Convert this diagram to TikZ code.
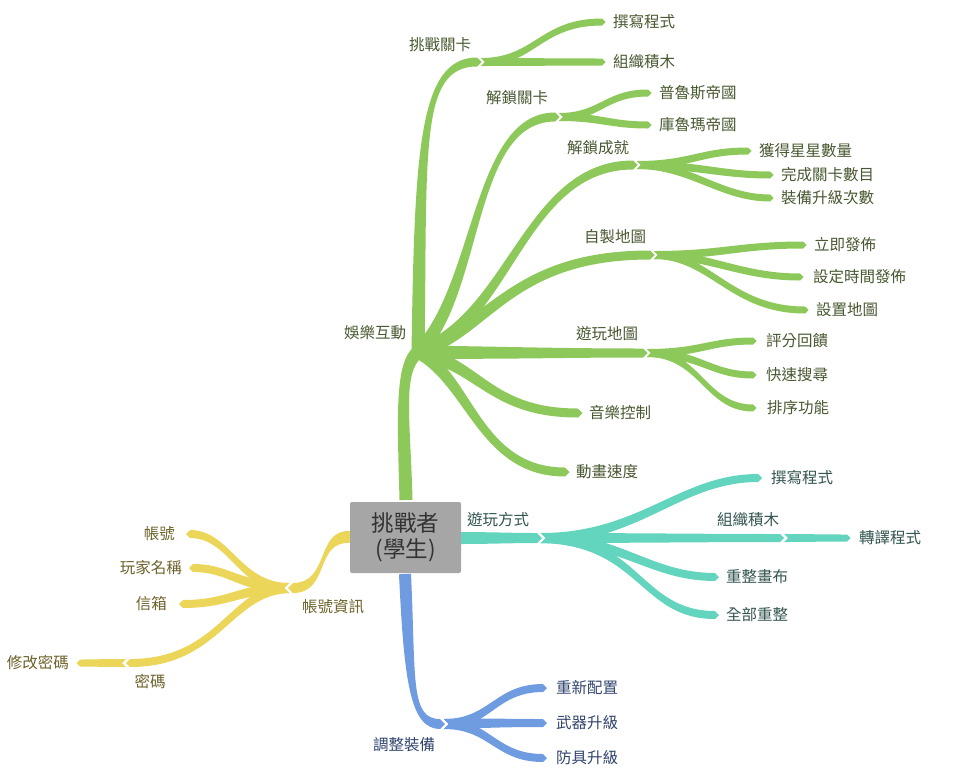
\documentclass[tikz,border=0pt]{standalone}
\usepackage{fontspec}
\setmainfont{Noto Sans CJK TC}
\usetikzlibrary{calc}
\definecolor{cG}{RGB}{141,200,90}
\definecolor{cT}{RGB}{99,213,190}
\definecolor{cB}{RGB}{111,155,224}
\definecolor{cY}{RGB}{236,214,90}
\definecolor{tG}{RGB}{72,88,48}
\definecolor{tT}{RGB}{50,84,80}
\definecolor{tB}{RGB}{48,68,110}
\definecolor{tY}{RGB}{108,98,42}
\definecolor{boxg}{RGB}{166,166,166}
% #1 colour, #2 start, #3 ctrl1, #4 ctrl2, #5 end, #6 half width start, #7 half width end, #8 notch
\newcommand\brch[8]{\fill[#1] ($#2!#6!90:#3$) .. controls ($#3!#6!-90:#2$) and ($#4!#7!90:#5$) .. ($#5!#7!-90:#4$) -- ($#5!-#7!#4$) -- ($#5!#7!90:#4$) .. controls ($#4!#7!-90:#5$) and ($#3!#6!90:#2$) .. ($#2!#6!-90:#3$) -- ($#2!#8!#3$) -- cycle;}
\tikzset{
  lab/.style={inner sep=1pt, font=\fontsize{15.5}{18}\selectfont},
  labG/.style={lab, text=tG},
  labT/.style={lab, text=tT},
  labB/.style={lab, text=tB},
  labY/.style={lab, text=tY},
}
\begin{document}
\begin{tikzpicture}[x=1pt,y=-1pt]
\useasboundingbox (0,0) rectangle (971,777);
% ---------- key points ----------
\coordinate (ctop) at (406,500);
\coordinate (cright) at (460,538);
\coordinate (cbot) at (405,574);
\coordinate (cleft) at (350,537);
\coordinate (hubG) at (418,352);
\coordinate (g1) at (477,62);   \coordinate (g1n) at (481,62);
\coordinate (g1a) at (602,22);  \coordinate (g1b) at (602,62);
\coordinate (g2) at (555,117);  \coordinate (g2n) at (559,117);
\coordinate (g2a) at (648,93);  \coordinate (g2b) at (648,125);
\coordinate (g3) at (633,165);  \coordinate (g3n) at (637,165);
\coordinate (g3a) at (748,151); \coordinate (g3b) at (770,175); \coordinate (g3c) at (770,198);
\coordinate (g4) at (650,255);  \coordinate (g4n) at (654,255);
\coordinate (g4a) at (803,245); \coordinate (g4b) at (800,277); \coordinate (g4c) at (805,310);
\coordinate (g5) at (643,353);  \coordinate (g5n) at (647,353);
\coordinate (g5a) at (753,341); \coordinate (g5b) at (753,375); \coordinate (g5c) at (753,408);
\coordinate (g6) at (578,413);
\coordinate (g7) at (565,472);
\coordinate (t0) at (537,538);  \coordinate (t0n) at (541,538);
\coordinate (t1) at (758,478);  \coordinate (t2) at (780,538); \coordinate (t2n) at (784,538);
\coordinate (t2a) at (847,538);
\coordinate (t3) at (715,577);  \coordinate (t4) at (715,615);
\coordinate (b0) at (440,724);  \coordinate (b0n) at (444,724);
\coordinate (b1) at (543,688);  \coordinate (b2) at (543,723); \coordinate (b3) at (543,758);
\coordinate (y0) at (293,588);  \coordinate (y0n) at (289,588);
\coordinate (y1) at (190,534);  \coordinate (y2) at (193,568); \coordinate (y3) at (183,604);
\coordinate (y4) at (130,663);  \coordinate (y4n) at (126,663);
\coordinate (y4a) at (80,663);

% ---------- green ----------
\brch{cG}{(ctop)}{(404,420)}{(398,368)}{(hubG)}{6.5pt}{6.5pt}{0pt}
\brch{cG}{(hubG)}{(421,150)}{(419,62)}{(g1)}{6.5pt}{4.5pt}{0pt}
\brch{cG}{(g1n)}{(535,62)}{(540,22)}{(g1a)}{4pt}{3.5pt}{4pt}
\brch{cG}{(g1n)}{(530,62)}{(560,62)}{(g1b)}{4pt}{3.5pt}{4pt}
\brch{cG}{(hubG)}{(480,290)}{(472,117)}{(g2)}{6.5pt}{4.5pt}{0pt}
\brch{cG}{(g2n)}{(600,117)}{(605,93)}{(g2a)}{4pt}{3.5pt}{4pt}
\brch{cG}{(g2n)}{(600,117)}{(610,125)}{(g2b)}{4pt}{3.5pt}{4pt}
\brch{cG}{(hubG)}{(510,320)}{(525,165)}{(g3)}{6.5pt}{4.5pt}{0pt}
\brch{cG}{(g3n)}{(690,165)}{(700,151)}{(g3a)}{4pt}{3.5pt}{4pt}
\brch{cG}{(g3n)}{(700,165)}{(720,175)}{(g3b)}{4pt}{3.5pt}{4pt}
\brch{cG}{(g3n)}{(690,165)}{(720,198)}{(g3c)}{4pt}{3.5pt}{4pt}
\brch{cG}{(hubG)}{(490,330)}{(510,255)}{(g4)}{6.5pt}{4.5pt}{0pt}
\brch{cG}{(g4n)}{(720,255)}{(740,245)}{(g4a)}{4pt}{3.5pt}{4pt}
\brch{cG}{(g4n)}{(710,255)}{(740,277)}{(g4b)}{4pt}{3.5pt}{4pt}
\brch{cG}{(g4n)}{(710,255)}{(730,310)}{(g4c)}{4pt}{3.5pt}{4pt}
\brch{cG}{(hubG)}{(500,353)}{(560,353)}{(g5)}{6.5pt}{4.5pt}{0pt}
\brch{cG}{(g5n)}{(700,353)}{(710,341)}{(g5a)}{4pt}{3.5pt}{4pt}
\brch{cG}{(g5n)}{(700,353)}{(710,375)}{(g5b)}{4pt}{3.5pt}{4pt}
\brch{cG}{(g5n)}{(700,353)}{(705,408)}{(g5c)}{4pt}{3.5pt}{4pt}
\brch{cG}{(hubG)}{(480,365)}{(490,413)}{(g6)}{6.5pt}{4.5pt}{0pt}
\brch{cG}{(hubG)}{(470,380)}{(480,472)}{(g7)}{6.5pt}{4.5pt}{0pt}

% ---------- teal ----------
\brch{cT}{(cright)}{(490,538)}{(510,538)}{(t0)}{6pt}{5pt}{0pt}
\brch{cT}{(t0n)}{(640,538)}{(680,478)}{(t1)}{5pt}{4pt}{5pt}
\brch{cT}{(t0n)}{(640,538)}{(700,538)}{(t2)}{5pt}{4pt}{5pt}
\brch{cT}{(t2n)}{(810,538)}{(820,538)}{(t2a)}{4pt}{3.5pt}{4pt}
\brch{cT}{(t0n)}{(620,538)}{(650,577)}{(t3)}{5pt}{4pt}{5pt}
\brch{cT}{(t0n)}{(640,540)}{(640,615)}{(t4)}{5pt}{4pt}{5pt}

% ---------- blue ----------
\brch{cB}{(cbot)}{(410,680)}{(410,724)}{(b0)}{6pt}{5pt}{0pt}
\brch{cB}{(b0n)}{(490,724)}{(495,688)}{(b1)}{5pt}{4pt}{5pt}
\brch{cB}{(b0n)}{(490,723)}{(500,723)}{(b2)}{5pt}{4pt}{5pt}
\brch{cB}{(b0n)}{(490,724)}{(495,758)}{(b3)}{5pt}{4pt}{5pt}

% ---------- yellow ----------
\brch{cY}{(cleft)}{(315,535)}{(330,588)}{(y0)}{6pt}{5pt}{0pt}
\brch{cY}{(y0n)}{(240,588)}{(230,534)}{(y1)}{5pt}{4pt}{5pt}
\brch{cY}{(y0n)}{(240,588)}{(230,568)}{(y2)}{5pt}{4pt}{5pt}
\brch{cY}{(y0n)}{(240,588)}{(230,604)}{(y3)}{5pt}{4pt}{5pt}
\brch{cY}{(y0n)}{(230,590)}{(220,663)}{(y4)}{5pt}{4pt}{5pt}
\brch{cY}{(y4n)}{(100,663)}{(95,663)}{(y4a)}{4pt}{3.5pt}{4pt}

% ---------- centre ----------
\node (center) [fill=boxg, rounded corners=2pt, minimum width=111pt, minimum height=71pt, align=center,
  text=black!80, font=\fontsize{22.5}{26}\selectfont, inner sep=2pt] at (405.5,537.5) {挑戰者\\(學生)};

% ---------- labels ----------
\node (L0) [labG] at (375,333) {娛樂互動};
\node (L1) [labG] at (440,45) {挑戰關卡};
\node (L1a) [labG, anchor=west] at (612,22) {撰寫程式};
\node (L1b) [labG, anchor=west] at (612,62) {組織積木};
\node (L2) [labG] at (517,98) {解鎖關卡};
\node (L2a) [labG, anchor=west] at (658,93) {普魯斯帝國};
\node (L2b) [labG, anchor=west] at (658,125) {庫魯瑪帝國};
\node (L3) [labG] at (598,148) {解鎖成就};
\node (L3a) [labG, anchor=west] at (758,151) {獲得星星數量};
\node (L3b) [labG, anchor=west] at (780,175) {完成關卡數目};
\node (L3c) [labG, anchor=west] at (780,198) {裝備升級次數};
\node (L4) [labG] at (615,237) {自製地圖};
\node (L4a) [labG, anchor=west] at (813,245) {立即發佈};
\node (L4b) [labG, anchor=west] at (812,277) {設定時間發佈};
\node (L4c) [labG, anchor=west] at (815,310) {設置地圖};
\node (L5) [labG] at (607,334) {遊玩地圖};
\node (L5a) [labG, anchor=west] at (765,341) {評分回饋};
\node (L5b) [labG, anchor=west] at (765,375) {快速搜尋};
\node (L5c) [labG, anchor=west] at (766,408) {排序功能};
\node (L6) [labG, anchor=west] at (588,413) {音樂控制};
\node (L7) [labG, anchor=west] at (575,472) {動畫速度};

\node (M0) [labT] at (498,520) {遊玩方式};
\node (M1) [labT, anchor=west] at (770,478) {撰寫程式};
\node (M2) [labT] at (748,520) {組織積木};
\node (M2a) [labT, anchor=west] at (858,538) {轉譯程式};
\node (M3) [labT, anchor=west] at (725,577) {重整畫布};
\node (M4) [labT, anchor=west] at (725,615) {全部重整};

\node (N0) [labB] at (404,745) {調整裝備};
\node (N1) [labB, anchor=west] at (555,688) {重新配置};
\node (N2) [labB, anchor=west] at (555,723) {武器升級};
\node (N3) [labB, anchor=west] at (555,758) {防具升級};

\node (P0) [labY] at (333,607) {帳號資訊};
\node (P1) [labY, anchor=east] at (176,534) {帳號};
\node (P2) [labY, anchor=east] at (183,568) {玩家名稱};
\node (P3) [labY, anchor=east] at (168,604) {信箱};
\node (P4) [labY] at (150,682) {密碼};
\node (P4a) [labY, anchor=east] at (70,663) {修改密碼};
\end{tikzpicture}
\end{document}
